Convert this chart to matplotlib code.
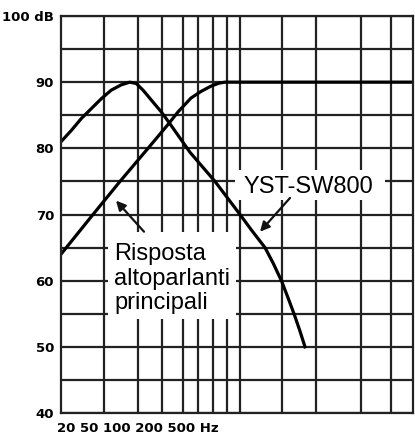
import numpy as np
import matplotlib.pyplot as plt
from matplotlib.patches import Rectangle

# x is position along the (schematic) frequency axis, 0 = left edge, 352 = right edge
x_grid = [43, 77, 101, 122, 137, 152, 166, 179, 221, 255, 300, 330]
x_max = 352
y_grid = np.arange(40, 101, 5)
y_labels = ['40', '', '50', '', '60', '', '70', '', '80', '', '90', '', '100 dB']
x_label_text = '20 50 100 200 500 Hz'

# YST-SW800 subwoofer response
sub_x = [0, 10.3, 20.3, 30.3, 40.3, 50.3, 60.3, 68.7, 75.3, 82, 90.3, 100.3, 109,
         129, 154, 179, 190.7, 204, 212.3, 220.7, 227.3, 233, 238.7, 244]
sub_db = [81.0, 82.7, 84.5, 86.0, 87.5, 88.8, 89.6, 90.0, 89.8, 88.8, 87.3, 85.5, 83.7,
          79.4, 75.0, 70.0, 67.6, 65.0, 62.6, 59.9, 57.3, 55.0, 52.5, 50.0]

# main speakers response
main_x = [0, 32, 59, 87, 107, 117, 130, 140, 150, 158, 164, 352]
main_db = [64.0, 70.0, 75.0, 80.0, 83.6, 85.5, 87.6, 88.6, 89.4, 89.85, 90.0, 90.0]

grid_col = '#222222'

fig = plt.figure(figsize=(4.15, 4.34), dpi=100)
ax = fig.add_axes([61/415, 21/434, 352/415, 397/434])

ax.plot(sub_x, sub_db, color='black', lw=2.3, zorder=2, solid_joinstyle='round')
ax.plot(main_x, main_db, color='black', lw=2.3, zorder=2, solid_joinstyle='round')

ax.set_xlim(0, x_max)
ax.set_ylim(40, 100)
ax.set_xticks(x_grid)
ax.set_xticklabels([])
ax.set_yticks(y_grid)
ax.set_yticklabels(y_labels, fontfamily='DejaVu Sans', fontweight='bold', fontsize=9.5)
ax.tick_params(length=0, pad=5)
ax.set_axisbelow(True)
ax.grid(True, color=grid_col, lw=1.6)
for s in ax.spines.values():
    s.set_color(grid_col)
    s.set_linewidth(1.6)

# white label boxes that hide the grid
ax.add_patch(Rectangle((47, 54.2), 128, 13.2, facecolor='white', edgecolor='none', zorder=3))
ax.add_patch(Rectangle((174, 72.2), 150, 4.5, facecolor='white', edgecolor='none', zorder=3))

# va='baseline' on multi-line text anchors the last line
ax.text(53, 55.7, 'Risposta\naltoparlanti\nprincipali', ha='left', va='baseline',
        fontfamily='Liberation Sans', fontsize=17, linespacing=1.15, zorder=4)
ax.text(182, 73.3, 'YST-SW800', ha='left', va='baseline',
        fontfamily='Liberation Sans', fontsize=17, zorder=4)

arrow = dict(arrowstyle='-|>', color='#111111', lw=1.6, mutation_scale=14, shrinkA=0, shrinkB=0)
ax.annotate('', xy=(55, 72.1), xytext=(83, 67.4), arrowprops=arrow, zorder=5)
ax.annotate('', xy=(199, 67.4), xytext=(229, 72.5), arrowprops=arrow, zorder=5)

fig.text(57/415, 5.2/434, x_label_text, ha='left', va='center',
         fontfamily='DejaVu Sans', fontweight='bold', fontsize=9.5)

fig.savefig('out.png', dpi=100)
